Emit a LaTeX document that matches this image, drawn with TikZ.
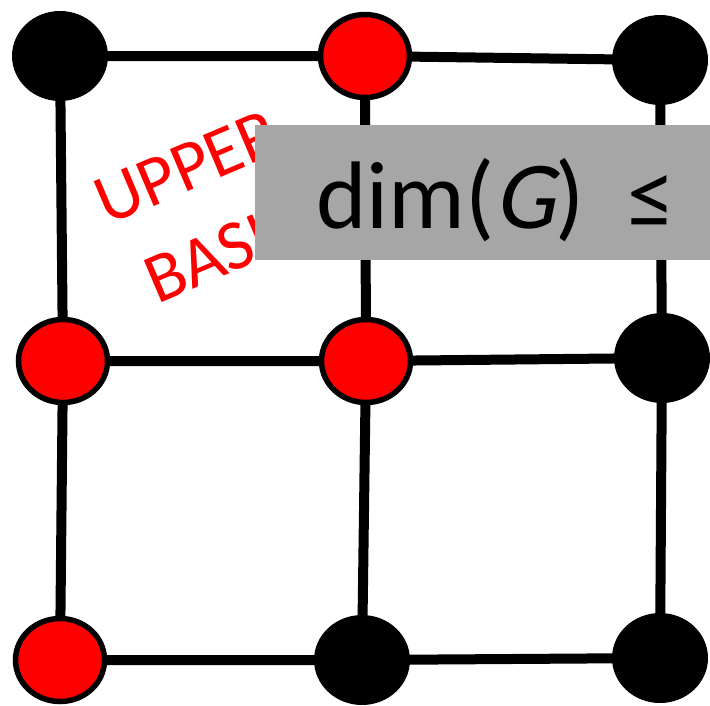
\documentclass[tikz,border=0pt]{standalone}
\usepackage{fontspec}
\setmainfont{Carlito}
\newfontfamily\slantfont{Carlito}[FakeSlant=0.2]
\usetikzlibrary{shapes.geometric,backgrounds}
\definecolor{boxgray}{RGB}{166,166,166}

\begin{document}
\begin{tikzpicture}[x=1pt, y=-1pt,
    blackvtx/.style={ellipse, fill=black, minimum width=96pt, minimum height=90pt, inner sep=0pt},
    redvtx/.style={ellipse, fill=red, draw=black, line width=5.5pt, minimum width=89pt, minimum height=83pt, inner sep=0pt},
    gridedge/.style={line width=10pt}]
    \useasboundingbox (0,0) rectangle (710,705);
    \clip (0,0) rectangle (710,705);
    % vertices
    \node[blackvtx] (a1) at (60,56) {};
    \node[redvtx] (a2) at (365,56) {};
    \node[blackvtx] (a3) at (660,60) {};
    \node[redvtx] (b1) at (63,361) {};
    \node[redvtx] (b2) at (366,361) {};
    \node[blackvtx] (b3) at (662,358) {};
    \node[redvtx] (c1) at (60,660) {};
    \node[blackvtx] (c2) at (362,660) {};
    \node[blackvtx] (c3) at (660,658) {};
    % edges
    \begin{pgfonlayer}{background}
    \draw[gridedge] (a1.center) -- (a2.center) -- (a3.center) (b1.center) -- (b2.center) -- (b3.center) (c1.center) -- (c2.center) -- (c3.center);
    \draw[gridedge] (a1.center) -- (b1.center) -- (c1.center) (a2.center) -- (b2.center) -- (c2.center) (a3.center) -- (b3.center) -- (c3.center);
    \end{pgfonlayer}
    % label and box
    \node[red, rotate=23, align=center, inner sep=0pt, font=\fontsize{71}{92}\selectfont] (basis) at (205,210) {UPPER\\BASIS};
    \node[fill=boxgray, minimum width=470pt, minimum height=135pt, inner sep=0pt, anchor=north west] (dimbox) at (255,125) {};
    \node[anchor=base west, inner sep=0pt, font=\fontsize{96}{110}\selectfont] (dimtext) at (316,228) {dim({\slantfont G})\ \ ≤};
\end{tikzpicture}
\end{document}
